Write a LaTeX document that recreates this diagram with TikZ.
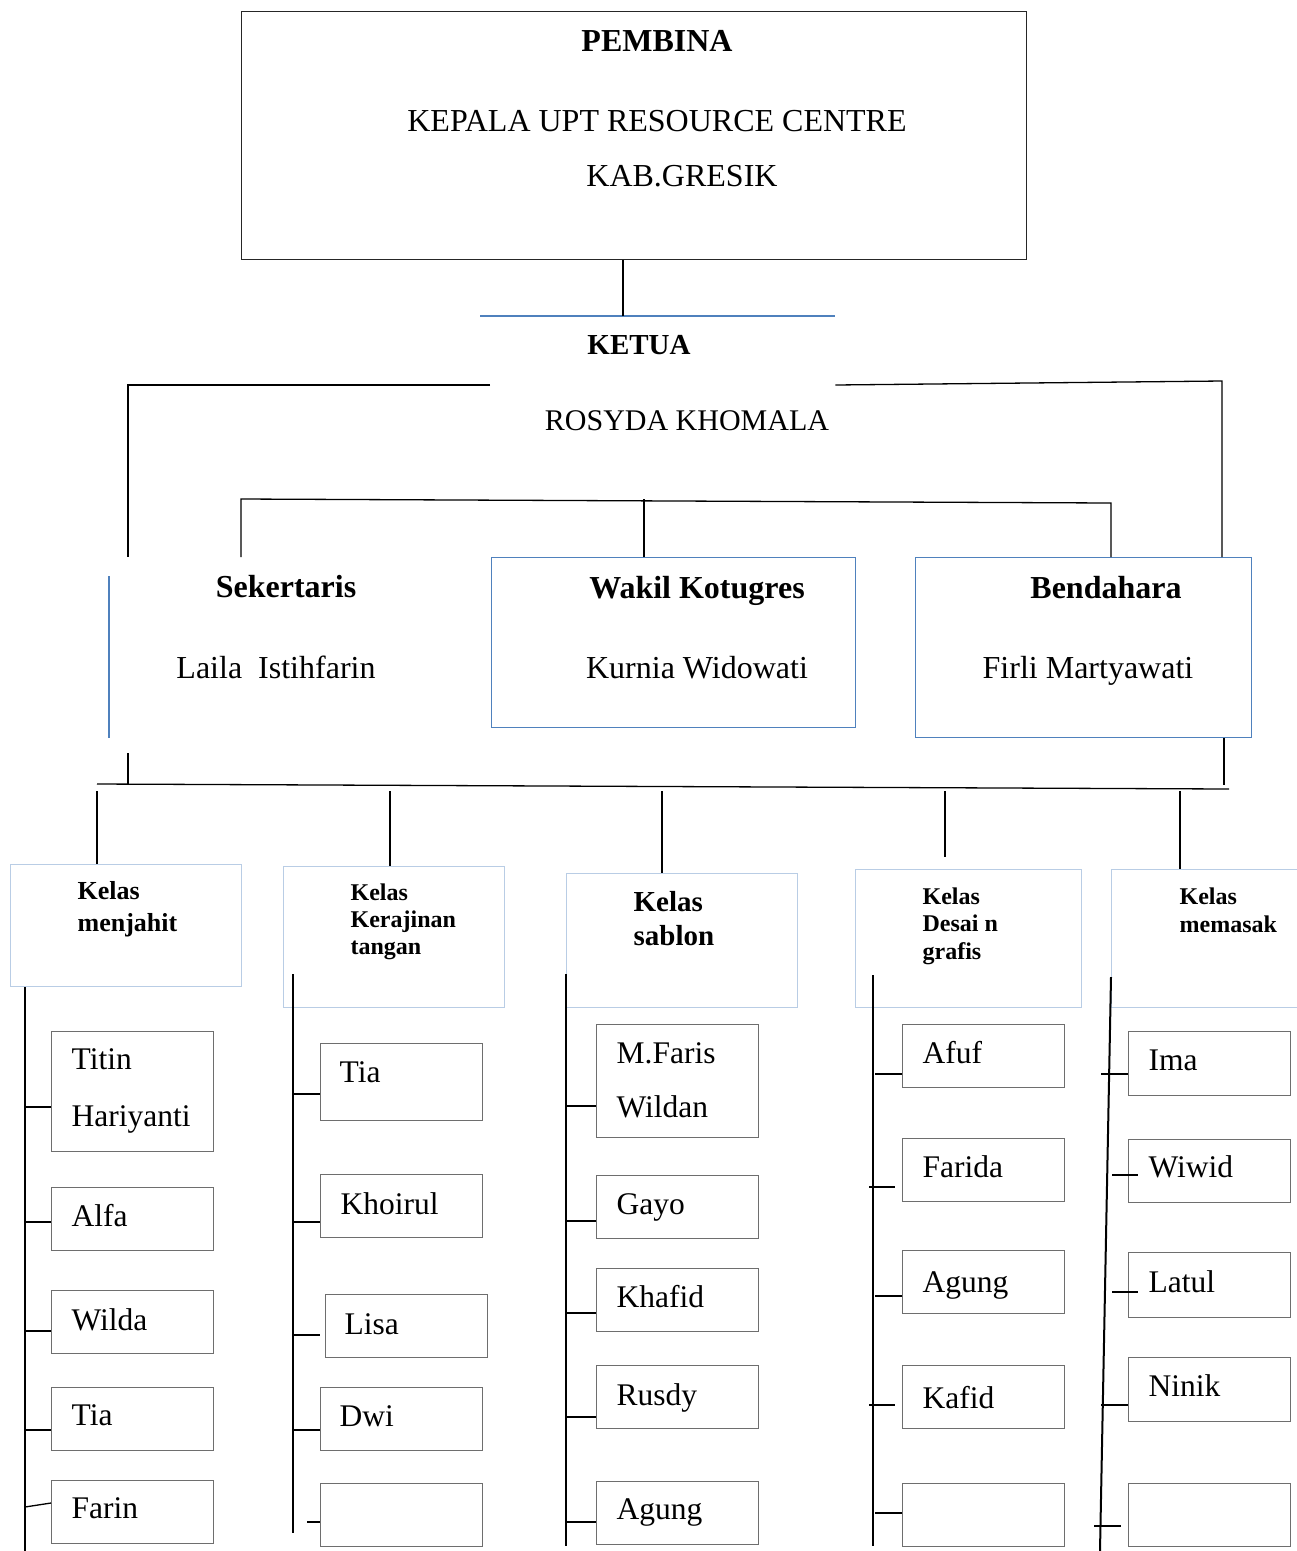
\documentclass[tikz,border=0pt]{standalone}
\usepackage{fontspec}
\setmainfont{Liberation Serif}
\definecolor{garisbiru}{HTML}{4F81BD}
\definecolor{kelasbiru}{HTML}{B9CDE5}
\definecolor{abuabu}{HTML}{6E6E6E}
\tikzset{
  kotak/.style={anchor=north west,inner sep=0pt},
  anggota/.style={kotak,draw=abuabu,minimum width=162pt,minimum height=63pt},
  kelas/.style={kotak,draw=kelasbiru},
  teks/.style={anchor=base,inner sep=0pt,font=\fontsize{32}{36}\selectfont},
  judul/.style={anchor=base,inner sep=0pt,font=\fontsize{32}{36}\selectfont\bfseries},
  nama/.style={anchor=base west,inner sep=0pt,font=\fontsize{31.5}{36}\selectfont},
  pohon/.style={line width=2pt}
}
\begin{document}
\begin{tikzpicture}[x=1pt,y=-1pt,line width=1.3pt]
\clip (0,0) rectangle (1297,1551);

% Pembina
\node[kotak,draw=black!85,minimum width=785pt,minimum height=248pt] (pembina) at (241,11) {};
\node[judul] (tpembina) at (657,51) {PEMBINA};
\node[teks] (kepala) at (657,131) {KEPALA UPT RESOURCE CENTRE};
\node[teks] (gresik) at (682,186) {KAB.GRESIK};

% Ketua
\node[kotak,minimum width=354pt,minimum height=160pt] (ketua) at (480,316) {};
\draw[garisbiru] (ketua.north west) -- (ketua.north east);
\draw (pembina.south -| 623,0) -- (ketua.north -| 623,0);
\node[judul,font=\fontsize{29}{36}\selectfont\bfseries] (tketua) at (639,354) {KETUA};
\node[teks,font=\fontsize{30}{36}\selectfont] (rosyda) at (687,430) {ROSYDA KHOMALA};

% Sekertaris, wakil, bendahara
\node[kotak,minimum width=360pt,minimum height=180pt] (sekre) at (109,557) {};
\draw[garisbiru] (109,576) -- (sekre.south west);
\node[kotak,draw=garisbiru,minimum width=364pt,minimum height=170pt] (wakil) at (491,557) {};
\node[kotak,draw=garisbiru,minimum width=336pt,minimum height=180pt] (bendahara) at (915,557) {};
\node[judul] (tsekre) at (286,597) {Sekertaris};
\node[teks] (laila) at (276,678) {Laila~\ Istihfarin};
\node[judul] (twakil) at (697,598) {Wakil Kotugres};
\node[teks] (kurnia) at (697,678) {Kurnia Widowati};
\node[judul] (tbendahara) at (1106,598) {Bendahara};
\node[teks] (firli) at (1088,678) {Firli Martyawati};

\draw (490,385) -- (128,385) -- (sekre.north -| 128,0);
\draw (ketua.north east |- 0,385) -- (1222,381) -- (bendahara.north -| 1222,0);
\draw (sekre.north -| 241,0) -- (241,499) -- (1111,503) -- (bendahara.north -| 1111,0);
\draw (644,499) -- (wakil.north -| 644,0);

% Kelas
\node[kelas,minimum width=231pt,minimum height=122pt] (menjahit) at (10,864) {};
\node[kelas,minimum width=221pt,minimum height=141pt] (kerajinan) at (283,866) {};
\node[kelas,minimum width=231pt,minimum height=134pt] (sablon) at (566,873) {};
\node[kelas,minimum width=226pt,minimum height=138pt] (desain) at (855,869) {};
\node[kelas,minimum width=200pt,minimum height=138pt] (memasak) at (1111,869) {};
\node[kotak,align=left,font=\fontsize{26}{31.7}\selectfont\bfseries] (tmenjahit) at (77,881) {Kelas\\menjahit};
\node[kotak,align=left,font=\fontsize{24}{27}\selectfont\bfseries] (tkerajinan) at (350,883) {Kelas\\Kerajinan\\tangan};
\node[kotak,align=left,font=\fontsize{29}{34}\selectfont\bfseries] (tsablon) at (633,891) {Kelas\\sablon};
\node[kotak,align=left,font=\fontsize{24}{27.5}\selectfont\bfseries] (tdesain) at (922,887) {Kelas\\Desai n\\grafis};
\node[kotak,align=left,font=\fontsize{24}{28}\selectfont\bfseries] (tmemasak) at (1179,887) {Kelas\\memasak};

\draw (sekre.south -| 128,0) ++(0,15) -- (128,785);
\draw (bendahara.south -| 1224,0) -- (1224,785);
\draw (97,784) -- (1229,789);
\draw (97,791) -- (menjahit.north -| 97,0);
\draw (390,791) -- (kerajinan.north -| 390,0);
\draw (662,791) -- (sablon.north -| 662,0);
\draw (945,791) -- (945,857);
\draw (1180,791) -- (memasak.north -| 1180,0);

% Anggota kelas menjahit
\node[anggota,minimum height=120pt] (titin) at (51,1031) {};
\node[anggota] (alfa) at (51,1187) {};
\node[anggota] (wilda) at (51,1290) {};
\node[anggota] (tia1) at (51,1387) {};
\node[anggota] (farin) at (51,1480) {};
\node[nama] at (71,1069) {Titin};
\node[nama] at (71,1126) {Hariyanti};
\node[nama] at (71,1226) {Alfa};
\node[nama] at (71,1330) {Wilda};
\node[nama] at (71,1425) {Tia};
\node[nama] at (71,1518) {Farin};
\draw[pohon] (menjahit.south -| 25,0) -- (25,1551);
\draw (25,1107) -- (titin.west |- 0,1107);
\draw (25,1222) -- (alfa.west |- 0,1222);
\draw (25,1331) -- (wilda.west |- 0,1331);
\draw (25,1430) -- (tia1.west |- 0,1430);
\draw (25,1507) -- (farin.west |- 0,1503);

% Anggota kelas kerajinan tangan
\node[anggota,minimum height=77pt] (tia2) at (320,1043) {};
\node[anggota] (khoirul) at (320,1174) {};
\node[anggota] (lisa) at (325,1294) {};
\node[anggota] (dwi) at (320,1387) {};
\node[anggota] (kosong2) at (320,1483) {};
\node[nama] at (339,1082) {Tia};
\node[nama] at (340,1214) {Khoirul};
\node[nama] at (344,1334) {Lisa};
\node[nama] at (339,1426) {Dwi};
\draw[pohon] (293,974) -- (293,1533);
\draw (293,1094) -- (tia2.west |- 0,1094);
\draw (293,1222) -- (khoirul.west |- 0,1222);
\draw (293,1335) -- (320,1335);
\draw (293,1430) -- (dwi.west |- 0,1430);
\draw (307,1522) -- (kosong2.west |- 0,1522);

% Anggota kelas sablon
\node[anggota,minimum height=113pt] (faris) at (596,1024) {};
\node[anggota] (gayo) at (596,1175) {};
\node[anggota] (khafid) at (596,1268) {};
\node[anggota] (rusdy) at (596,1365) {};
\node[anggota] (agung3) at (596,1481) {};
\node[nama] at (616,1063) {M.Faris};
\node[nama] at (616,1117) {Wildan};
\node[nama] at (616,1214) {Gayo};
\node[nama] at (616,1307) {Khafid};
\node[nama] at (616,1405) {Rusdy};
\node[nama] at (616,1519) {Agung};
\draw[pohon] (566,974) -- (566,1546);
\draw (566,1106) -- (faris.west |- 0,1106);
\draw (566,1221) -- (gayo.west |- 0,1221);
\draw (566,1313) -- (khafid.west |- 0,1313);
\draw (566,1417) -- (rusdy.west |- 0,1417);
\draw (566,1522) -- (agung3.west |- 0,1522);

% Anggota kelas desain grafis
\node[anggota] (afuf) at (902,1024) {};
\node[anggota] (farida) at (902,1138) {};
\node[anggota] (agung4) at (902,1250) {};
\node[anggota] (kafid) at (902,1365) {};
\node[anggota] (kosong4) at (902,1483) {};
\node[nama] at (922,1063) {Afuf};
\node[nama] at (922,1177) {Farida};
\node[nama] at (922,1292) {Agung};
\node[nama] at (922,1408) {Kafid};
\draw[pohon] (873,975) -- (873,1546);
\draw (875,1074) -- (afuf.west |- 0,1074);
\draw (869,1187) -- (895,1187);
\draw (875,1296) -- (agung4.west |- 0,1296);
\draw (869,1405) -- (895,1405);
\draw (875,1513) -- (kosong4.west |- 0,1513);

% Anggota kelas memasak
\node[anggota,minimum height=64pt] (ima) at (1128,1031) {};
\node[anggota] (wiwid) at (1128,1139) {};
\node[anggota,minimum height=65pt] (latul) at (1128,1252) {};
\node[anggota,minimum height=64pt] (ninik) at (1128,1357) {};
\node[anggota] (kosong5) at (1128,1483) {};
\node[nama] at (1148,1070) {Ima};
\node[nama] at (1148,1177) {Wiwid};
\node[nama] at (1148,1292) {Latul};
\node[nama] at (1148,1396) {Ninik};
\draw[pohon] (1111,977) -- (1100,1551);
\draw (1101,1074) -- (ima.west |- 0,1074);
\draw (1112,1175) -- (1138,1175);
\draw (1112,1292) -- (1138,1292);
\draw (1101,1405) -- (ninik.west |- 0,1405);
\draw (1094,1526) -- (1121,1526);

\end{tikzpicture}
\end{document}
